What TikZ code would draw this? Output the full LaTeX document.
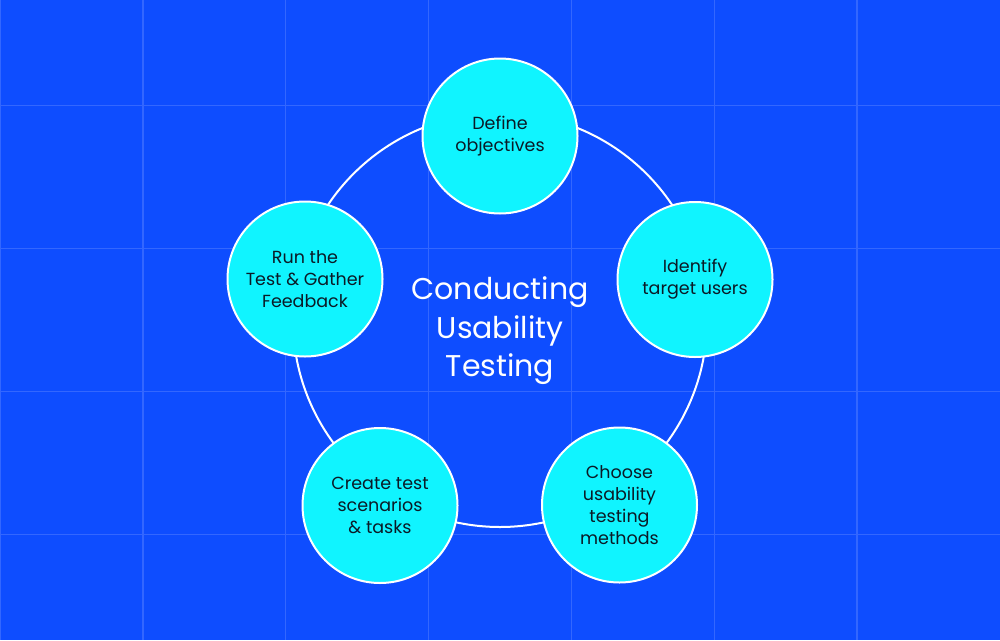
\documentclass[tikz,border=0pt]{standalone}
\usepackage{fontspec}
\setmainfont{Poppins}
\definecolor{bg}{HTML}{0E4DFF}
\definecolor{gridc}{HTML}{3367FF}
\definecolor{cyanfill}{HTML}{10F4FF}
\definecolor{txt}{HTML}{0B1A26}
\begin{document}
\begin{tikzpicture}[x=1pt,y=-1pt,
  gridline/.style={gridc, line width=1.5pt},
  ringline/.style={white, line width=2pt},
  stagecircle/.style={circle, draw=white, line width=2pt, fill=cyanfill,
    minimum size=155pt, inner sep=0pt, align=center, text=txt,
    font=\fontsize{17.5}{22}\selectfont},
  titletext/.style={align=center, text=white, font=\fontsize{30}{38.5}\selectfont}]
\fill[bg] (0,0) rectangle (1000,640);
\useasboundingbox (0,0) rectangle (1000,640);
\foreach \i in {0,...,6} \draw[gridline] ({\i*142.857},0) -- ({\i*142.857},640);
\foreach \yy in {105.7,248.6,391.4,534.3} \draw[gridline] (0,\yy) -- (1000,\yy);
\coordinate (ringc) at (500,320);
\draw[ringline] (ringc) circle[radius=207];
\node[stagecircle] (define) at (500,136) {Define\\objectives};
\node[stagecircle] (identify) at (695,279.5) {Identify\\target users};
\node[stagecircle] (choose) at (619.5,505) {Choose\\usability\\testing\\methods};
\node[stagecircle] (create) at (380,505.5) {Create test\\scenarios\\\& tasks};
\node[stagecircle] (run) at (305,279) {Run the\\Test \& Gather\\Feedback};
\node[titletext] (title) at (500,331) {Conducting\\Usability\\Testing};
\end{tikzpicture}
\end{document}
